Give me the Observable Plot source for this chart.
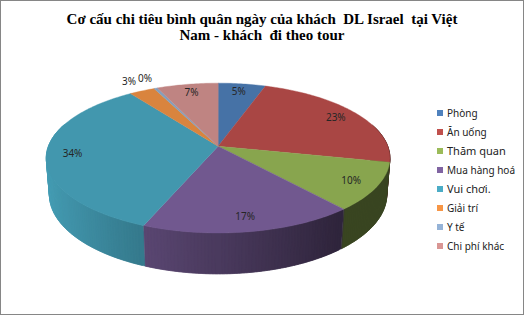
<!DOCTYPE html>
<html><head><meta charset="utf-8">
<script src="https://cdn.jsdelivr.net/npm/d3@7"></script>
<script src="https://cdn.jsdelivr.net/npm/@observablehq/plot@0.6"></script>
<style>
body{margin:0;background:#fff;}
#chart{position:relative;width:524px;height:315px;box-sizing:border-box;border:1px solid #868686;overflow:hidden;background:#fff;}
#plot{position:absolute;left:-1px;top:-1px;}
#title{position:absolute;left:0;top:10px;width:522px;text-align:center;font:bold 15px "Liberation Serif","Times New Roman",serif;line-height:16px;white-space:pre;color:#000;}
#legend{position:absolute;left:436px;top:102px;font:10px "Noto Sans",sans-serif;color:#222;}
.item{height:19.1px;display:flex;align-items:center;white-space:nowrap;}
.sw{width:6px;height:6px;margin-right:4px;flex:none;}
</style></head><body>
<div id="chart"><div id="plot"></div><div id="title">Cơ cấu chi tiêu bình quân ngày của khách  DL Israel  tại Việt
Nam - khách  đi theo tour</div><div id="legend"></div></div>
<script>
const categories = ["Phòng","Ăn uống","Thăm quan","Mua hàng hoá","Vui chơi.","Giải trí","Y tế","Chi phí khác"];
const values = [5.2, 23.2, 10.3, 17.4, 34.0, 2.8, 0.4, 6.7];
const colors = ["#4F81BD","#C0504D","#9BBB59","#8064A2","#4BACC6","#F79646","#95B3D7","#D99694"];

// projection of a tilted 3D disc (perspective)
const cx = 218, cy = 146, R = 170, alpha = 25.5 * Math.PI / 180, D = 5.71, depth = 0.24;
function proj(theta, r, Y) {
  const X = r * Math.sin(theta), Z = -r * Math.cos(theta);
  const up = Y * Math.cos(alpha) - Z * Math.sin(alpha);
  const w = Y * Math.sin(alpha) + Z * Math.cos(alpha);
  const s = D / (D - w);
  return {x: cx + X * s * R, y: cy - up * s * R};
}
const shade = (c, k) => { const o = d3.rgb(c); return d3.rgb(o.r * k, o.g * k, o.b * k).formatHex(); };

const total = d3.sum(values);
let acc = 0;
const slices = values.map((v, i) => {
  const a0 = acc / total * 2 * Math.PI; acc += v;
  const a1 = acc / total * 2 * Math.PI;
  return {i, v, a0, a1, name: categories[i], color: colors[i]};
});

// top faces
const topPts = [];
for (const s of slices) {
  const n = Math.max(2, Math.ceil((s.a1 - s.a0) / (Math.PI / 180)));
  const col = shade(s.color, 0.88);
  topPts.push({id: "t" + s.i, ...proj(0, 0, 0), color: col});
  for (let k = 0; k <= n; k++) {
    const t = s.a0 + (s.a1 - s.a0) * k / n;
    topPts.push({id: "t" + s.i, ...proj(t, 1, 0), color: col});
  }
}

// side walls, small overlapping segments, back to front
const segs = [];
for (const s of slices) {
  const n = Math.max(1, Math.ceil((s.a1 - s.a0) / (Math.PI / 180)));
  const step = (s.a1 - s.a0) / n;
  for (let k = 0; k < n; k++) {
    const t0 = s.a0 + step * k, t1 = Math.min(s.a1, s.a0 + step * (k + 1.8));
    const tm = s.a0 + step * (k + 0.5), Xm = Math.sin(tm), Zm = -Math.cos(tm);
    if (Zm < -0.3) continue;
    const f = Math.max(0.37, Math.min(0.93, 0.92 - 0.34 * (Xm + 1)));
    segs.push({id: `w${s.i}_${k}`, z: Zm, color: shade(s.color, f), t0, t1, xm: Xm});
  }
}
// paint from right-to-left within the front so overlaps carry the neighbouring shade smoothly
segs.sort((a, b) => a.z - b.z);
const wallPts = [];
for (const g of segs) {
  for (const p of [proj(g.t0, 1, 0), proj(g.t1, 1, 0), proj(g.t1, 1, -depth), proj(g.t0, 1, -depth)])
    wallPts.push({id: g.id, ...p, color: g.color});
}

// labels
const labelPts = slices.map(s => {
  const r = s.v >= 5 ? 0.85 : 1.2;
  return {...proj((s.a0 + s.a1) / 2, r, 0), label: Math.round(s.v) + "%"};
});

const plot = Plot.plot({
  width: 524, height: 315, margin: 0,
  x: {domain: [0, 524], range: [0, 524], axis: null},
  y: {domain: [0, 315], range: [0, 315], axis: null},
  color: {type: "identity"},
  style: {background: "transparent"},
  marks: [
    Plot.line(wallPts, {x: "x", y: "y", z: "id", fill: "color", stroke: "color", strokeWidth: 0.5, curve: "linear-closed"}),
    Plot.line(topPts, {x: "x", y: "y", z: "id", fill: "color", stroke: "color", strokeWidth: 0.4, curve: "linear-closed"}),
    Plot.text(labelPts, {x: "x", y: "y", text: "label", fill: "#262626", fontSize: 10, fontFamily: "Noto Sans", textAnchor: "middle", lineAnchor: "middle"})
  ]
});
document.getElementById("plot").appendChild(plot);

const big = new Set(["Thăm quan", "Vui chơi."]);
const leg = d3.select("#legend");
categories.forEach((c, i) => {
  const it = leg.append("div").attr("class", "item");
  it.append("div").attr("class", "sw").style("background", colors[i]);
  it.append("span").text(c).style("font-size", big.has(c) ? "11px" : "10px");
});
</script>
</body></html>
